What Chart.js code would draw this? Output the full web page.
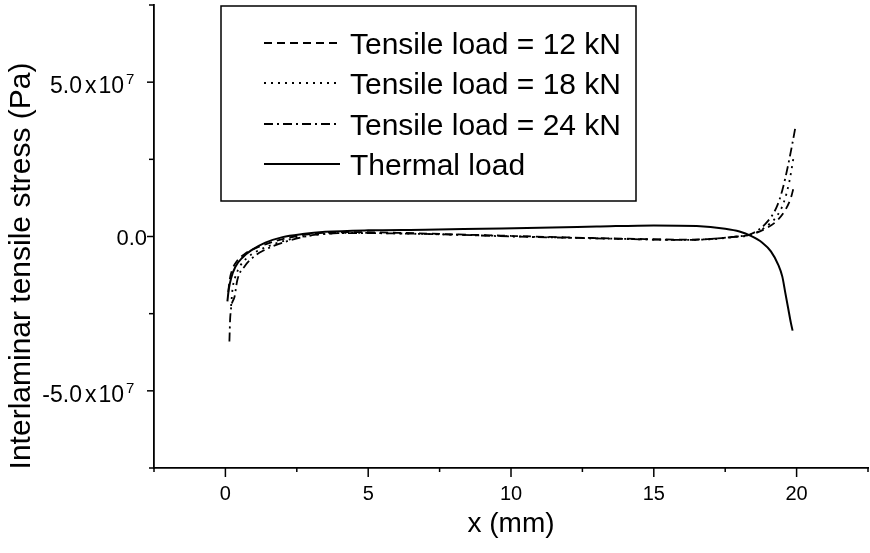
<!DOCTYPE html>
<html>
<head>
<meta charset="utf-8">
<script src="https://cdn.jsdelivr.net/npm/chart.js@4.4.1/dist/chart.umd.min.js"></script>
<style>
  body { margin: 0; background: #fff; }
  #wrap { width: 870px; height: 553px; }
</style>
</head>
<body>
<div id="wrap"><canvas id="myChart" width="870" height="553"></canvas></div>
<script>
// data (x in mm, stress in Pa)
let seriesLabels = ["Tensile load = 12 kN", "Tensile load = 18 kN", "Tensile load = 24 kN", "Thermal load"];

let x12 = [0.1, 0.15, 0.25, 0.4, 0.7, 1.0, 1.5, 2.2, 3.2, 4.5, 6, 8, 10, 12, 14, 16, 17, 17.8, 18.4, 18.9, 19.3, 19.6, 19.8, 19.9];
let y12 = [-1.8e7, -1.4e7, -1.05e7, -0.8e7, -0.55e7, -0.4e7, -0.22e7, -0.04e7, 0.1e7, 0.14e7, 0.12e7, 0.07e7, 0.02e7, -0.03e7, -0.07e7, -0.1e7, -0.08e7, -0.01e7, 0.06e7, 0.25e7, 0.5e7, 0.85e7, 1.25e7, 1.6e7];

let x18 = [0.2, 0.25, 0.35, 0.5, 0.75, 1.1, 1.6, 2.3, 3.2, 4.5, 6, 8, 10, 12, 14, 16, 17, 17.8, 18.4, 18.9, 19.3, 19.55, 19.75, 19.9];
let y18 = [-2.25e7, -1.7e7, -1.3e7, -0.98e7, -0.7e7, -0.48e7, -0.28e7, -0.08e7, 0.06e7, 0.12e7, 0.1e7, 0.06e7, 0.01e7, -0.04e7, -0.08e7, -0.11e7, -0.09e7, -0.02e7, 0.06e7, 0.3e7, 0.65e7, 1.1e7, 1.8e7, 2.6e7];

let x24 = [0.14, 0.17, 0.32, 0.42, 0.67, 1.0, 1.3, 2.0, 3.1, 4.5, 6, 8, 10, 12, 14, 16, 17, 17.8, 18.4, 18.9, 19.3, 19.5, 19.7, 19.85, 19.95];
let y24 = [-3.4e7, -2.6e7, -1.95e7, -1.4e7, -0.97e7, -0.65e7, -0.47e7, -0.2e7, 0.05e7, 0.11e7, 0.1e7, 0.06e7, 0.0, -0.04e7, -0.08e7, -0.11e7, -0.08e7, -0.01e7, 0.08e7, 0.4e7, 0.95e7, 1.5e7, 2.3e7, 3.0e7, 3.5e7];

let xThermal = [0.07, 0.12, 0.2, 0.35, 0.6, 0.9, 1.4, 2.0, 2.7, 3.5, 5, 7, 9, 11, 13, 15, 16.5, 17.5, 18.0, 18.4, 18.8, 19.1, 19.35, 19.5, 19.6, 19.7, 19.8, 19.86];
let yThermal = [-2.1e7, -1.7e7, -1.35e7, -0.98e7, -0.68e7, -0.45e7, -0.2e7, -0.02e7, 0.08e7, 0.15e7, 0.2e7, 0.22e7, 0.25e7, 0.28e7, 0.32e7, 0.36e7, 0.34e7, 0.25e7, 0.16e7, 0.02e7, -0.2e7, -0.48e7, -0.9e7, -1.3e7, -1.8e7, -2.3e7, -2.8e7, -3.05e7];

let xTickValues = [0, 5, 10, 15, 20];
let xTickLabels = ["0", "5", "10", "15", "20"];
// y labels: mantissa, and the power of ten ("" when there is none)
let yTickValues = [-5e7, 0, 5e7];
let yTickMantissa = ["-5.0", "0.0", "5.0"];
let yTickPower = ["7", "", "7"];

let xTitle = "x (mm)";
let yTitle = "Interlaminar tensile stress (Pa)";

const FONT = "'Liberation Sans', Arial, Helvetica, sans-serif";

toPoints = (xs, ys) => xs.map((x, i) => ({ x: x, y: ys[i] }));

findIndex = (v, values) => {
  for (let i = 0; i < values.length; i++) {
    if (Math.abs(v - values[i]) < 1e-6 * Math.max(1, Math.abs(values[i]))) return i;
  }
  return -1;
};

// tick marks, tick labels, axis titles and the boxed legend
let paperPlugin = {
  id: "paper",
  afterDraw(chart) {
    const ctx = chart.ctx;
    const xs = chart.scales.x;
    const ys = chart.scales.y;
    const area = chart.chartArea;
    ctx.save();
    ctx.strokeStyle = "#000";
    ctx.fillStyle = "#000";
    ctx.lineWidth = 1.5;

    // x ticks every 2.5, major ones labelled
    for (const t of xs.ticks) {
      const px = xs.getPixelForValue(t.value);
      const k = findIndex(t.value, xTickValues);
      ctx.beginPath();
      ctx.moveTo(px, area.bottom);
      ctx.lineTo(px, area.bottom + (k >= 0 ? 9 : 4));
      ctx.stroke();
      if (k >= 0) {
        ctx.font = "20px " + FONT;
        ctx.textAlign = "center";
        ctx.textBaseline = "alphabetic";
        ctx.fillText(xTickLabels[k], px, 500);
      }
    }

    // y ticks every 2.5e7
    for (const t of ys.ticks) {
      const py = ys.getPixelForValue(t.value);
      const k = findIndex(t.value, yTickValues);
      ctx.beginPath();
      ctx.moveTo(area.left, py);
      ctx.lineTo(area.left - (k >= 0 ? 7 : 5), py);
      ctx.stroke();
      if (k < 0) continue;
      ctx.textBaseline = "alphabetic";
      if (yTickPower[k] === "") {
        ctx.font = "22px " + FONT;
        ctx.textAlign = "right";
        ctx.fillText(yTickMantissa[k], area.left - 7, py + 8);
      } else {
        // "m x 10" with a raised exponent
        ctx.font = "15px " + FONT;
        ctx.textAlign = "left";
        ctx.fillText(yTickPower[k], 126, py + 2);
        ctx.font = "23px " + FONT;
        ctx.textAlign = "right";
        let right = 124;
        ctx.fillText("10", right, py + 11);
        right -= ctx.measureText("10").width + 2;
        ctx.fillText("x", right, py + 11);
        right -= ctx.measureText("x").width + 3;
        ctx.fillText(yTickMantissa[k], right, py + 11);
      }
    }

    // titles
    ctx.textAlign = "center";
    ctx.textBaseline = "middle";
    ctx.font = "28px " + FONT;
    ctx.fillText(xTitle, (area.left + area.right) / 2, 524);
    ctx.save();
    ctx.translate(22, 266);
    ctx.rotate(-Math.PI / 2);
    ctx.font = "30px " + FONT;
    ctx.fillText(yTitle, 0, 0);
    ctx.restore();

    // legend box
    const bx = 221, by = 6, bw = 415, bh = 195;
    ctx.fillStyle = "#fff";
    ctx.fillRect(bx, by, bw, bh);
    ctx.lineWidth = 1.5;
    ctx.strokeRect(bx, by, bw, bh);
    const rows = [43, 83, 124, 164];
    chart.data.datasets.forEach((ds, i) => {
      ctx.beginPath();
      ctx.setLineDash(ds.borderDash || []);
      ctx.lineWidth = ds.borderWidth;
      ctx.moveTo(264, rows[i]);
      ctx.lineTo(340, rows[i]);
      ctx.stroke();
      ctx.setLineDash([]);
      ctx.fillStyle = "#000";
      ctx.font = "30px " + FONT;
      ctx.textAlign = "left";
      ctx.textBaseline = "alphabetic";
      ctx.fillText(ds.label, 350, rows[i] + 11);
    });
    ctx.restore();
  }
};

drawChart = () => {
  let ctx = document.getElementById("myChart").getContext("2d");
  let common = { showLine: true, pointRadius: 0, borderColor: "#000", backgroundColor: "#000", fill: false, cubicInterpolationMode: "monotone" };
  let myChart = new Chart(ctx, {
    type: "scatter",
    data: {
      datasets: [
        Object.assign({ label: seriesLabels[0], data: toPoints(x12, y12), borderWidth: 1.8, borderDash: [8, 5] }, common),
        Object.assign({ label: seriesLabels[1], data: toPoints(x18, y18), borderWidth: 1.8, borderDash: [2, 5] }, common),
        Object.assign({ label: seriesLabels[2], data: toPoints(x24, y24), borderWidth: 1.8, borderDash: [9, 4, 2, 4] }, common),
        Object.assign({ label: seriesLabels[3], data: toPoints(xThermal, yThermal), borderWidth: 2 }, common)
      ]
    },
    options: {
      responsive: false,
      animation: false,
      layout: { padding: { top: 5, right: 2, left: 0, bottom: 0 } },
      plugins: { legend: { display: false }, tooltip: { enabled: false } },
      scales: {
        x: {
          type: "linear",
          min: -2.5,
          max: 22.5,
          afterFit: (s) => { s.height = 85; },
          grid: { display: false, drawTicks: false },
          border: { display: true, color: "#000", width: 1.8 },
          ticks: { display: false, stepSize: 2.5, autoSkip: false }
        },
        y: {
          type: "linear",
          min: -7.5e7,
          max: 7.5e7,
          afterFit: (s) => { s.width = 154; },
          grid: { display: false, drawTicks: false },
          border: { display: true, color: "#000", width: 1.8 },
          ticks: { display: false, stepSize: 2.5e7, autoSkip: false }
        }
      }
    },
    plugins: [paperPlugin]
  });
};

window.onload = drawChart;
</script>
</body>
</html>
